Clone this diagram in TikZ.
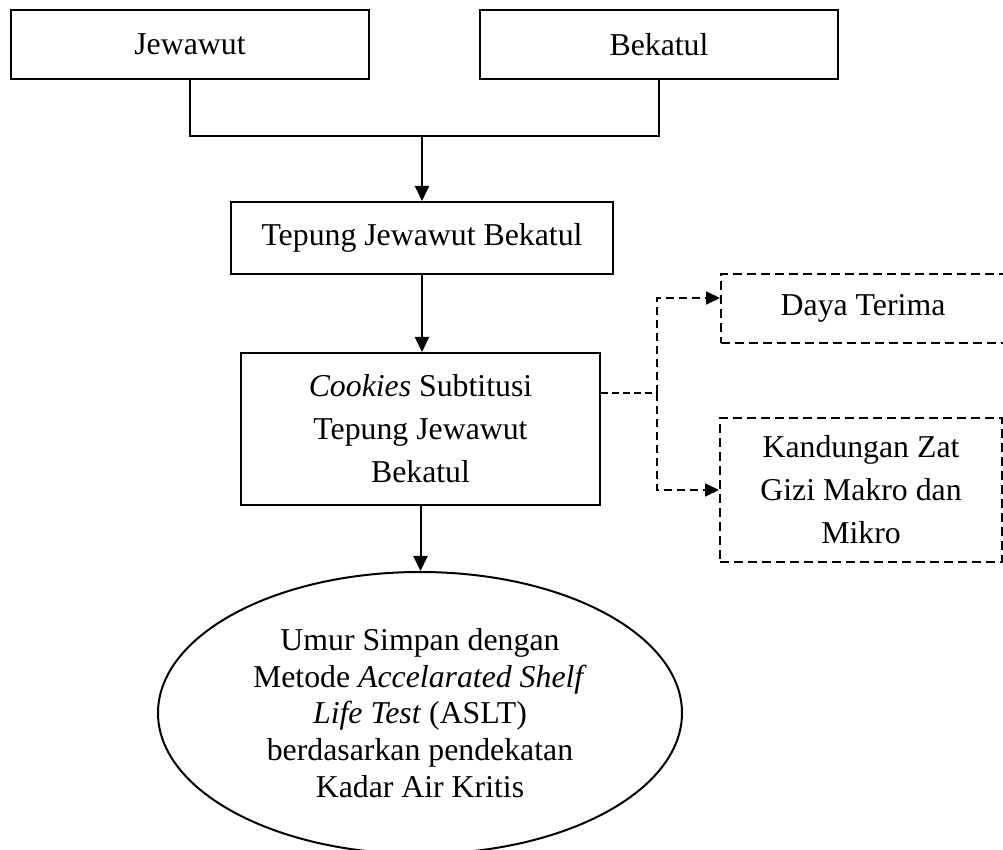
\documentclass[tikz,border=0pt]{standalone}
\usepackage{fontspec}
\setmainfont{Liberation Serif}
\usetikzlibrary{arrows.meta,shapes.geometric}
\begin{document}
\begin{tikzpicture}[x=0.5pt,y=-0.5pt,
  box/.style={draw,line width=1pt,rectangle,inner sep=0pt,align=center,font=\fontsize{15.9pt}{21.5pt}\selectfont},
  dbox/.style={box,dash pattern=on 4.5pt off 2.5pt},
  oval/.style={draw,ellipse,line width=1pt,inner sep=0pt,align=center,font=\fontsize{15.9pt}{18.3pt}\selectfont},
  link/.style={line width=1pt},
  arr/.style={line width=1pt,-{Triangle[width=7pt,length=7.5pt]}},
  darr/.style={line width=0.9pt,dash pattern=on 4pt off 2.5pt,-{Triangle[width=6.5pt,length=7pt]}},
  dline/.style={line width=0.7pt,dash pattern=on 3.5pt off 2pt}]
\useasboundingbox (0,0) rectangle (1003,850);
\fill[white] (0,0) rectangle (1003,850);

\node[box,minimum width=179pt,minimum height=34.5pt] (jew) at (190,44.5) {Jewawut};
\node[box,minimum width=179pt,minimum height=34.5pt] (bek) at (659,44.5) {Bekatul};
\node[box,minimum width=191pt,minimum height=36pt] (tep) at (422,238) {Tepung Jewawut Bekatul};
\node[box,minimum width=179.5pt,minimum height=76pt] (cook) at (420.5,429) {\textit{Cookies} Subtitusi\\Tepung Jewawut\\Bekatul};
\node[dbox,minimum width=142pt,minimum height=34.5pt] (daya) at (863,308.5) {Daya Terima};
\node[dbox,minimum width=141pt,minimum height=72pt] (kand) at (861,490) {Kandungan Zat\\Gizi Makro dan\\Mikro};
\node[oval,minimum width=262pt,minimum height=141pt] (shelf) at (420,713) {Umur Simpan dengan\\Metode \textit{Accelarated Shelf}\\\textit{Life Test} (ASLT)\\berdasarkan pendekatan\\Kadar Air Kritis};

\coordinate (join) at (422,136);
\draw[link] (jew.south) |- (join) -| (bek.south);
\draw[arr] (join) -- (tep.north);
\draw[arr] (tep.south) -- (tep.south |- cook.north);
\draw[arr] (cook.south) -- (cook.south |- shelf.north);

\coordinate (br) at (657,393);
\coordinate (brt) at (657,298);
\coordinate (brb) at (657,490);
\draw[dline] (cook.east |- br) -- (br);
\draw[darr] (br) -- (brt) -- (brt -| daya.west);
\draw[darr] (br) -- (brb) -- (kand.west);
\end{tikzpicture}
\end{document}
